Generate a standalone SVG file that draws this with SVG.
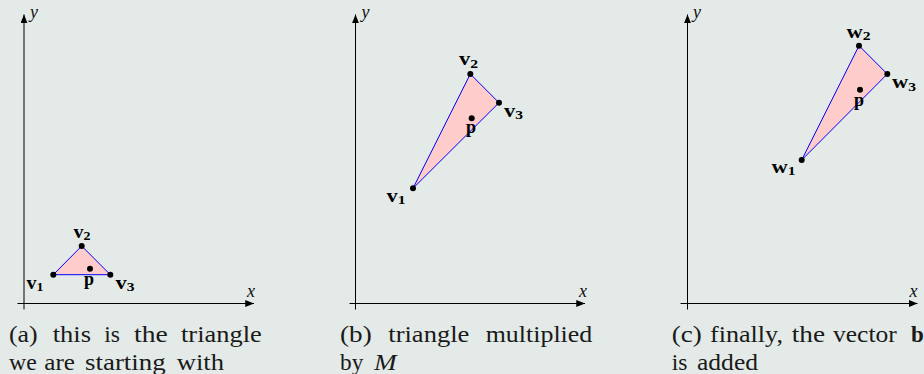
<svg xmlns="http://www.w3.org/2000/svg" width="924" height="374" viewBox="0 0 924 374">
<style>
.bg{fill:#e3eae7}
.ax{stroke:#000;stroke-width:1;fill:none}
.tri{fill:#ffcccc;stroke:#0000ff;stroke-width:1;stroke-linejoin:round}
.pt{fill:#000}
text{font-family:'Liberation Serif','Times New Roman',serif}
.lbl{font-weight:bold;font-size:18px;fill:#000}
.sub{font-size:12.5px}
.axl{font-style:italic;font-size:18px;fill:#111}
.cap{font-size:23px;fill:#1a1a1a}
</style>
<defs>
<marker id="arr" viewBox="0 0 10 8" refX="10" refY="4" markerWidth="9" markerHeight="7" markerUnits="userSpaceOnUse" orient="auto">
<path d="M0,0 L10,4 L0,8 z" fill="#000"/>
</marker>
</defs>
<rect class="bg" x="0" y="0" width="924" height="374"/>

<g id="connectors">
<line class="ax" x1="24" y1="309.5" x2="24" y2="14.5" marker-end="url(#arr)"/>
<line class="ax" x1="17.5" y1="303.5" x2="254" y2="303.5" marker-end="url(#arr)"/>
<line class="ax" x1="355.5" y1="309.5" x2="355.5" y2="14.5" marker-end="url(#arr)"/>
<line class="ax" x1="349.5" y1="303.5" x2="585" y2="303.5" marker-end="url(#arr)"/>
<line class="ax" x1="687.5" y1="309.5" x2="687.5" y2="14.5" marker-end="url(#arr)"/>
<line class="ax" x1="680.5" y1="303.5" x2="917.5" y2="303.5" marker-end="url(#arr)"/>
<polygon class="tri" points="53.3,274.7 81.7,246 110.3,274.7"/>
<polygon class="tri" points="413,188.3 470.3,74 499,102.7"/>
<polygon class="tri" points="801.7,160 859,45.7 887.3,74"/>
</g>

<g id="axis-labels" font-family="Liberation Serif, serif">
<text class="axl" x="30" y="18">y</text>
<text class="axl" x="247" y="297">x</text>
<text class="axl" x="361.5" y="18">y</text>
<text class="axl" x="579" y="297">x</text>
<text class="axl" x="693" y="18">y</text>
<text class="axl" x="909.5" y="297">x</text>
</g>

<g id="a-v1"><circle class="pt" cx="53.3" cy="274.7" r="3"/><text class="lbl" x="26.5" y="288.5" textLength="17" lengthAdjust="spacingAndGlyphs">v<tspan class="sub" dy="2.5">1</tspan></text></g>
<g id="a-v2"><circle class="pt" cx="81.7" cy="246" r="3"/><text class="lbl" x="73.5" y="237.5" textLength="17" lengthAdjust="spacingAndGlyphs">v<tspan class="sub" dy="2.5">2</tspan></text></g>
<g id="a-v3"><circle class="pt" cx="110.3" cy="274.7" r="3"/><text class="lbl" x="115.5" y="288.5" textLength="19" lengthAdjust="spacingAndGlyphs">v<tspan class="sub" dy="2.5">3</tspan></text></g>
<g id="a-p"><circle class="pt" cx="90" cy="268.7" r="3"/><text class="lbl" x="84" y="285">p</text></g>

<g id="b-v1"><circle class="pt" cx="413" cy="188.3" r="3"/><text class="lbl" x="386.5" y="201.5" textLength="19" lengthAdjust="spacingAndGlyphs">v<tspan class="sub" dy="2.5">1</tspan></text></g>
<g id="b-v2"><circle class="pt" cx="470.3" cy="74" r="3"/><text class="lbl" x="459" y="65" textLength="19" lengthAdjust="spacingAndGlyphs">v<tspan class="sub" dy="2.5">2</tspan></text></g>
<g id="b-v3"><circle class="pt" cx="499" cy="102.7" r="3"/><text class="lbl" x="504" y="116.5" textLength="19" lengthAdjust="spacingAndGlyphs">v<tspan class="sub" dy="2.5">3</tspan></text></g>
<g id="b-p"><circle class="pt" cx="471.7" cy="118.3" r="3"/><text class="lbl" x="466" y="133">p</text></g>

<g id="c-w1"><circle class="pt" cx="801.7" cy="160" r="3"/><text class="lbl" x="771.5" y="172.5" textLength="24" lengthAdjust="spacingAndGlyphs">w<tspan class="sub" dy="2.5">1</tspan></text></g>
<g id="c-w2"><circle class="pt" cx="859" cy="45.7" r="3"/><text class="lbl" x="846.5" y="37.5" textLength="24" lengthAdjust="spacingAndGlyphs">w<tspan class="sub" dy="2.5">2</tspan></text></g>
<g id="c-w3"><circle class="pt" cx="887.3" cy="74" r="3"/><text class="lbl" x="892" y="88" textLength="24" lengthAdjust="spacingAndGlyphs">w<tspan class="sub" dy="2.5">3</tspan></text></g>
<g id="c-p"><circle class="pt" cx="860" cy="89.7" r="3"/><text class="lbl" x="854" y="105.5">p</text></g>

<g id="caption-a" class="cap">
<text x="9" y="342" textLength="28.7" lengthAdjust="spacingAndGlyphs">(a)</text>
<text x="52.7" y="342" textLength="38.3" lengthAdjust="spacingAndGlyphs">this</text>
<text x="104.3" y="342" textLength="15.7" lengthAdjust="spacingAndGlyphs">is</text>
<text x="134" y="342" textLength="33.7" lengthAdjust="spacingAndGlyphs">the</text>
<text x="181" y="342" textLength="80.7" lengthAdjust="spacingAndGlyphs">triangle</text>
<text x="9" y="370" textLength="27.7" lengthAdjust="spacingAndGlyphs">we</text>
<text x="44.3" y="370" textLength="30.7" lengthAdjust="spacingAndGlyphs">are</text>
<text x="85" y="370" textLength="80.7" lengthAdjust="spacingAndGlyphs">starting</text>
<text x="176.7" y="370" textLength="47.3" lengthAdjust="spacingAndGlyphs">with</text>
</g>

<g id="caption-b" class="cap">
<text x="340" y="342" textLength="31.7" lengthAdjust="spacingAndGlyphs">(b)</text>
<text x="388.3" y="342" textLength="81" lengthAdjust="spacingAndGlyphs">triangle</text>
<text x="485.7" y="342" textLength="106.6" lengthAdjust="spacingAndGlyphs">multiplied</text>
<text x="340" y="370" textLength="23.3" lengthAdjust="spacingAndGlyphs">by</text>
<text x="374" y="370" textLength="22.7" lengthAdjust="spacingAndGlyphs" font-style="italic">M</text>
</g>

<g id="caption-c" class="cap">
<text x="671.7" y="342" textLength="30" lengthAdjust="spacingAndGlyphs">(c)</text>
<text x="710" y="342" textLength="73" lengthAdjust="spacingAndGlyphs">finally,</text>
<text x="791.7" y="342" textLength="33.3" lengthAdjust="spacingAndGlyphs">the</text>
<text x="833" y="342" textLength="63.7" lengthAdjust="spacingAndGlyphs">vector</text>
<text x="911" y="342" font-weight="bold">b</text>
<text x="671.7" y="370" textLength="15.7" lengthAdjust="spacingAndGlyphs">is</text>
<text x="697" y="370" textLength="61" lengthAdjust="spacingAndGlyphs">added</text>
</g>
</svg>
